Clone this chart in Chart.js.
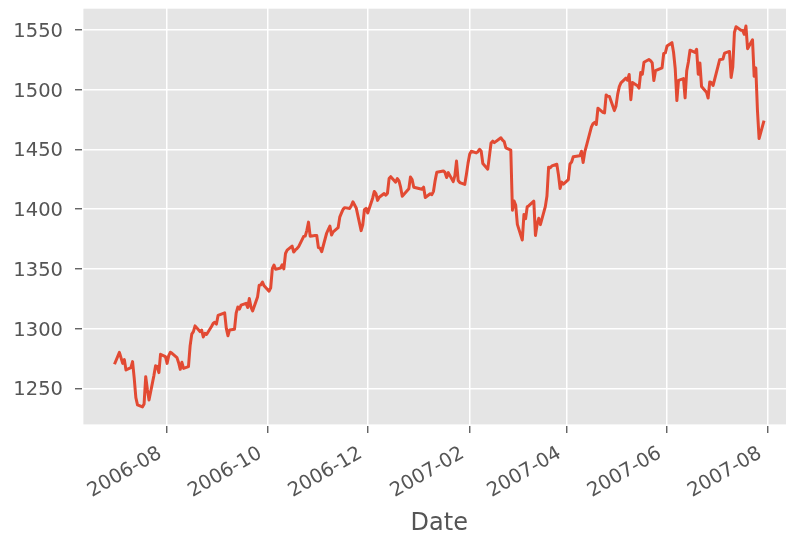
<!DOCTYPE html>
<html>
<head>
<meta charset="utf-8">
<script src="https://cdn.jsdelivr.net/npm/chart.js@4.4.1/dist/chart.umd.min.js"></script>
<style>
  html, body { margin: 0; padding: 0; background: #fff; overflow: hidden; }
  #wrap { width: 800px; height: 541px; }
</style>
</head>
<body>
<div id="wrap"><canvas id="spxChart" width="800" height="541"></canvas></div>
<script>
// daily closes
const dates = [
  '2006-06-30',
  '2006-07-03','2006-07-05','2006-07-06','2006-07-07','2006-07-10','2006-07-11','2006-07-12','2006-07-13','2006-07-14','2006-07-17','2006-07-18','2006-07-19','2006-07-20','2006-07-21','2006-07-24','2006-07-25','2006-07-26','2006-07-27','2006-07-28','2006-07-31',
  '2006-08-01','2006-08-02','2006-08-03','2006-08-04','2006-08-07','2006-08-08','2006-08-09','2006-08-10','2006-08-11','2006-08-14','2006-08-15','2006-08-16','2006-08-17','2006-08-18','2006-08-21','2006-08-22','2006-08-23','2006-08-24','2006-08-25','2006-08-28','2006-08-29','2006-08-30','2006-08-31',
  '2006-09-01','2006-09-05','2006-09-06','2006-09-07','2006-09-08','2006-09-11','2006-09-12','2006-09-13','2006-09-14','2006-09-15','2006-09-18','2006-09-19','2006-09-20','2006-09-21','2006-09-22','2006-09-25','2006-09-26','2006-09-27','2006-09-28','2006-09-29',
  '2006-10-02','2006-10-03','2006-10-04','2006-10-05','2006-10-06','2006-10-09','2006-10-10','2006-10-11','2006-10-12','2006-10-13','2006-10-16','2006-10-17','2006-10-18','2006-10-19','2006-10-20','2006-10-23','2006-10-24','2006-10-25','2006-10-26','2006-10-27','2006-10-30','2006-10-31',
  '2006-11-01','2006-11-02','2006-11-03','2006-11-06','2006-11-07','2006-11-08','2006-11-09','2006-11-10','2006-11-13','2006-11-14','2006-11-15','2006-11-16','2006-11-17','2006-11-20','2006-11-21','2006-11-22','2006-11-24','2006-11-27','2006-11-28','2006-11-29','2006-11-30',
  '2006-12-01','2006-12-04','2006-12-05','2006-12-06','2006-12-07','2006-12-08','2006-12-11','2006-12-12','2006-12-13','2006-12-14','2006-12-15','2006-12-18','2006-12-19','2006-12-20','2006-12-21','2006-12-22','2006-12-26','2006-12-27','2006-12-28','2006-12-29',
  '2007-01-03','2007-01-04','2007-01-05','2007-01-08','2007-01-09','2007-01-10','2007-01-11','2007-01-12','2007-01-16','2007-01-17','2007-01-18','2007-01-19','2007-01-22','2007-01-23','2007-01-24','2007-01-25','2007-01-26','2007-01-29','2007-01-30','2007-01-31',
  '2007-02-01','2007-02-02','2007-02-05','2007-02-06','2007-02-07','2007-02-08','2007-02-09','2007-02-12','2007-02-13','2007-02-14','2007-02-15','2007-02-16','2007-02-20','2007-02-21','2007-02-22','2007-02-23','2007-02-26','2007-02-27','2007-02-28',
  '2007-03-01','2007-03-02','2007-03-05','2007-03-06','2007-03-07','2007-03-08','2007-03-09','2007-03-12','2007-03-13','2007-03-14','2007-03-15','2007-03-16','2007-03-19','2007-03-20','2007-03-21','2007-03-22','2007-03-23','2007-03-26','2007-03-27','2007-03-28','2007-03-29','2007-03-30',
  '2007-04-02','2007-04-03','2007-04-04','2007-04-05','2007-04-09','2007-04-10','2007-04-11','2007-04-12','2007-04-13','2007-04-16','2007-04-17','2007-04-18','2007-04-19','2007-04-20','2007-04-23','2007-04-24','2007-04-25','2007-04-26','2007-04-27','2007-04-30',
  '2007-05-01','2007-05-02','2007-05-03','2007-05-04','2007-05-07','2007-05-08','2007-05-09','2007-05-10','2007-05-11','2007-05-14','2007-05-15','2007-05-16','2007-05-17','2007-05-18','2007-05-21','2007-05-22','2007-05-23','2007-05-24','2007-05-25','2007-05-29','2007-05-30','2007-05-31',
  '2007-06-01','2007-06-04','2007-06-05','2007-06-06','2007-06-07','2007-06-08','2007-06-11','2007-06-12','2007-06-13','2007-06-14','2007-06-15','2007-06-18','2007-06-19','2007-06-20','2007-06-21','2007-06-22','2007-06-25','2007-06-26','2007-06-27','2007-06-28','2007-06-29',
  '2007-07-02','2007-07-03','2007-07-05','2007-07-06','2007-07-09','2007-07-10','2007-07-11','2007-07-12','2007-07-13','2007-07-16','2007-07-17','2007-07-18','2007-07-19','2007-07-20','2007-07-23','2007-07-24','2007-07-25','2007-07-26','2007-07-27','2007-07-30'
];

const closes = [
  1270.20,
  1280.19,1270.91,1274.08,1265.48,1267.34,1272.43,1258.60,1242.29,1236.20,1234.49,1236.86,1259.81,1249.13,1240.29,1260.91,1268.88,1268.40,1263.20,1278.55,1276.66,
  1270.92,1277.41,1280.27,1279.36,1275.77,1271.48,1265.95,1271.81,1266.74,1268.21,1285.58,1295.43,1297.48,1302.30,1297.52,1298.82,1292.99,1296.06,1295.09,1301.78,1304.28,1305.37,1303.82,
  1311.01,1313.25,1300.26,1294.02,1298.92,1299.54,1313.00,1318.07,1316.28,1319.66,1321.18,1317.64,1325.18,1318.03,1314.78,1326.37,1336.35,1336.59,1338.88,1335.85,
  1331.32,1334.11,1350.20,1353.22,1349.59,1350.66,1353.42,1349.95,1362.83,1365.62,1369.06,1364.05,1365.80,1366.96,1368.60,1377.02,1377.38,1382.22,1389.08,1377.34,1377.93,1377.94,
  1367.81,1367.34,1364.30,1379.78,1382.84,1385.72,1378.33,1380.90,1384.42,1393.22,1396.57,1399.76,1401.20,1400.50,1402.81,1406.09,1400.95,1381.96,1386.72,1399.48,1400.63,
  1396.71,1409.12,1414.76,1412.90,1407.29,1409.84,1413.04,1411.56,1413.21,1425.49,1427.09,1422.48,1425.55,1423.53,1418.30,1410.76,1416.90,1426.84,1424.73,1418.30,
  1416.60,1418.34,1409.71,1412.84,1412.11,1414.85,1423.82,1430.73,1431.90,1430.62,1426.37,1430.50,1422.95,1427.99,1440.13,1423.90,1422.18,1420.62,1428.82,1438.24,
  1445.94,1448.39,1446.99,1448.00,1450.02,1448.31,1438.06,1433.37,1444.26,1455.30,1456.81,1455.54,1459.68,1457.63,1456.38,1451.19,1449.37,1399.04,1406.82,
  1403.17,1387.17,1374.12,1395.41,1391.97,1401.89,1402.84,1406.60,1377.95,1387.17,1392.28,1386.95,1402.06,1410.94,1435.04,1434.54,1436.11,1437.50,1428.61,1417.23,1422.53,1420.86,
  1424.55,1437.77,1439.37,1443.76,1444.61,1448.39,1438.87,1447.80,1452.85,1468.47,1471.48,1472.50,1470.73,1484.35,1480.93,1480.41,1495.42,1494.25,1494.07,1482.37,
  1486.30,1495.92,1502.39,1505.62,1509.48,1507.72,1512.58,1491.47,1505.85,1503.15,1501.19,1514.14,1512.75,1522.75,1525.10,1524.12,1522.28,1507.51,1515.73,1518.11,1530.23,1530.62,
  1536.34,1539.18,1530.95,1517.38,1490.72,1507.67,1509.12,1493.00,1515.67,1522.97,1532.91,1531.05,1533.70,1512.84,1522.19,1502.56,1497.74,1492.89,1506.34,1505.71,1503.35,
  1519.43,1524.87,1525.40,1530.44,1531.85,1510.12,1518.76,1547.70,1552.50,1549.52,1549.37,1546.17,1553.08,1534.10,1541.57,1511.04,1518.09,1482.66,1458.95,1473.91
];

const xTickLabels = ['2006-08', '2006-10', '2006-12', '2007-02', '2007-04', '2007-06', '2007-08'];
const yTicks = [1250, 1300, 1350, 1400, 1450, 1500, 1550];

function toDay(s) {
    const p = s.split('-').map(Number);
    return Date.UTC(p[0], p[1] - 1, p[2] || 1) / 86400000;
}

const points = dates.map((d, i) => ({ x: toDay(d), y: closes[i] }));

// matplotlib-style 5% margins
const xs = points.map(p => p.x), ys = points.map(p => p.y);
const xLo = Math.min(...xs), xHi = Math.max(...xs);
const yLo = Math.min(...ys), yHi = Math.max(...ys);
const xPad = (xHi - xLo) * 0.05, yPad = (yHi - yLo) * 0.05;

const tickLabelByDay = {};
xTickLabels.forEach(l => { tickLabelByDay[toDay(l)] = l; });

const grey = '#555555';

const panelBg = {
    id: 'panelBg',
    beforeDraw(chart) {
        const a = chart.chartArea, c = chart.ctx;
        c.save();
        c.fillStyle = '#E5E5E5';
        c.fillRect(a.left + 1.4, a.top + 1.7, a.right - a.left - 1.4, a.bottom - a.top - 3.3);
        c.restore();
    }
};

const ctx = document.getElementById('spxChart').getContext('2d');
const spxChart = new Chart(ctx, {
    type: 'line',
    data: {
        datasets: [{
            data: points,
            borderColor: '#E24A33',
            borderWidth: 3,
            pointRadius: 0,
            tension: 0,
            fill: false,
            borderJoinStyle: 'round'
        }]
    },
    options: {
        responsive: false,
        animation: false,
        layout: { padding: { left: 0, top: 7, right: 3.5, bottom: 0 } },
        plugins: { legend: { display: false }, tooltip: { enabled: false } },
        scales: {
            x: {
                type: 'linear',
                min: xLo - xPad,
                max: xHi + xPad,
                afterBuildTicks: s => { s.ticks = xTickLabels.map(l => ({ value: toDay(l) })); },
                afterFit: s => { s.height = 115; s.paddingLeft = 0; s.paddingRight = 0; },
                border: { display: false },
                grid: { color: '#ffffff', lineWidth: 1.5, tickColor: grey, tickLength: 7, tickWidth: 1.3 },
                ticks: {
                    autoSkip: false,
                    minRotation: 30,
                    maxRotation: 30,
                    padding: 9,
                    labelOffset: -7,
                    color: grey,
                    font: { family: 'DejaVu Sans', size: 19.5 },
                    callback: v => tickLabelByDay[v] || ''
                },
                title: {
                    display: true,
                    text: 'Date',
                    color: grey,
                    font: { family: 'DejaVu Sans', size: 24 },
                    padding: { top: 0, bottom: 3 }
                }
            },
            y: {
                type: 'linear',
                min: yLo - yPad,
                max: yHi + yPad,
                afterBuildTicks: s => { s.ticks = yTicks.map(v => ({ value: v })); },
                afterFit: s => { s.width = 82; s.paddingTop = 0; s.paddingBottom = 0; },
                border: { display: false },
                grid: { color: '#ffffff', lineWidth: 1.5, tickColor: grey, tickLength: 7, tickWidth: 1.3 },
                ticks: {
                    padding: 12,
                    labelOffset: 2,
                    color: grey,
                    font: { family: 'DejaVu Sans', size: 19.5 },
                    callback: v => String(v)
                }
            }
        }
    },
    plugins: [panelBg]
});
</script>
</body>
</html>
